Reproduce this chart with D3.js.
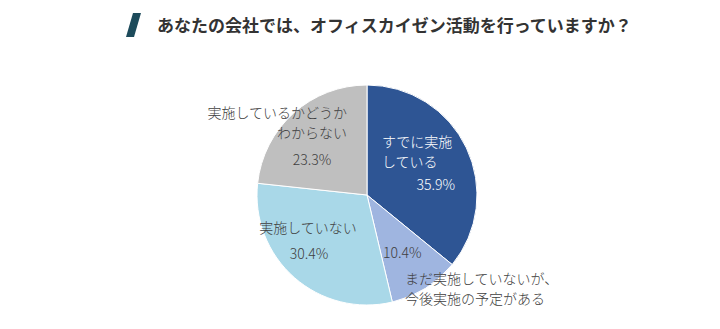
<!DOCTYPE html>
<html lang="ja">
<head>
<meta charset="utf-8">
<script src="https://cdn.jsdelivr.net/npm/d3@7"></script>
<style>
  html, body { margin: 0; padding: 0; background: #fff; }
  svg { display: block; }
  text { font-family: "Noto Sans CJK JP", "Noto Sans", sans-serif; }
</style>
</head>
<body>
<svg id="chart" width="720" height="329"></svg>
<script>
// Survey answers, clockwise from 12 o'clock
const categories = [
  "すでに実施している",
  "まだ実施していないが、今後実施の予定がある",
  "実施していない",
  "実施しているかどうかわからない"
];
const values = [35.9, 10.4, 30.4, 23.3];
const colors = ["#2E5594", "#9FB5E0", "#A9D8E8", "#BFBFBF"];

// Label text split into display lines
const labelLines = [
  ["すでに実施", "している"],
  ["まだ実施していないが、", "今後実施の予定がある"],
  ["実施していない"],
  ["実施しているかどうか", "わからない"]
];

const title = "あなたの会社では、オフィスカイゼン活動を行っていますか？";

const svg = d3.select("#chart");
const cx = 367, cy = 195, radius = 110;

// Title with slanted accent bar
svg.append("path")
  .attr("d", "M133,13 L141,13 L134,37 L126,37 Z")
  .attr("fill", "#1D4B5B");
svg.append("text")
  .attr("x", 157).attr("y", 32)
  .attr("font-size", 17).attr("font-weight", 700)
  .attr("fill", "#333")
  .text(title);

const data = categories.map((c, i) => ({ category: c, value: values[i], lines: labelLines[i], color: colors[i] }));

const pie = d3.pie().value(d => d.value).sort(null);
const arc = d3.arc().innerRadius(0).outerRadius(radius);
const arcs = pie(data);

const g = svg.append("g").attr("transform", `translate(${cx},${cy})`);
g.selectAll("path.slice")
  .data(arcs)
  .join("path")
  .attr("class", "slice")
  .attr("d", arc)
  .attr("fill", d => d.data.color)
  .attr("stroke", "#fff")
  .attr("stroke-width", 1);

// Label layout: per slice, category lines and percentage placed relative to the pie centre
const layout = [
  { lines: { x: 15, y: -48, anchor: "start", dy: 20 }, pct: { x: 88, y: -5, anchor: "end" }, fill: "#fff" },
  { lines: { x: 38, y: 89, anchor: "start", dy: 20 }, pct: { x: 16, y: 63, anchor: "start" }, fill: "#404040" },
  { lines: { x: -59, y: 38, anchor: "middle", dy: 20 }, pct: { x: -58, y: 64, anchor: "middle" }, fill: "#404040" },
  { lines: { x: -20, y: -77, anchor: "end", dy: 20 }, pct: { x: -55, y: -30, anchor: "middle" }, fill: "#404040" }
];

const fmt = d3.format(".1f");
arcs.forEach((a, i) => {
  const L = layout[i];
  const t = g.append("text")
    .attr("font-size", 14).attr("font-weight", 300)
    .attr("fill", L.fill)
    .attr("text-anchor", L.lines.anchor);
  a.data.lines.forEach((line, j) => {
    t.append("tspan")
      .attr("x", L.lines.x)
      .attr("y", L.lines.y + j * L.lines.dy)
      .text(line);
  });
  g.append("text")
    .attr("x", L.pct.x).attr("y", L.pct.y)
    .attr("font-size", 14).attr("font-weight", 300)
    .attr("fill", L.fill)
    .attr("text-anchor", L.pct.anchor)
    .text(fmt(a.data.value) + "%");
});
</script>
</body>
</html>
